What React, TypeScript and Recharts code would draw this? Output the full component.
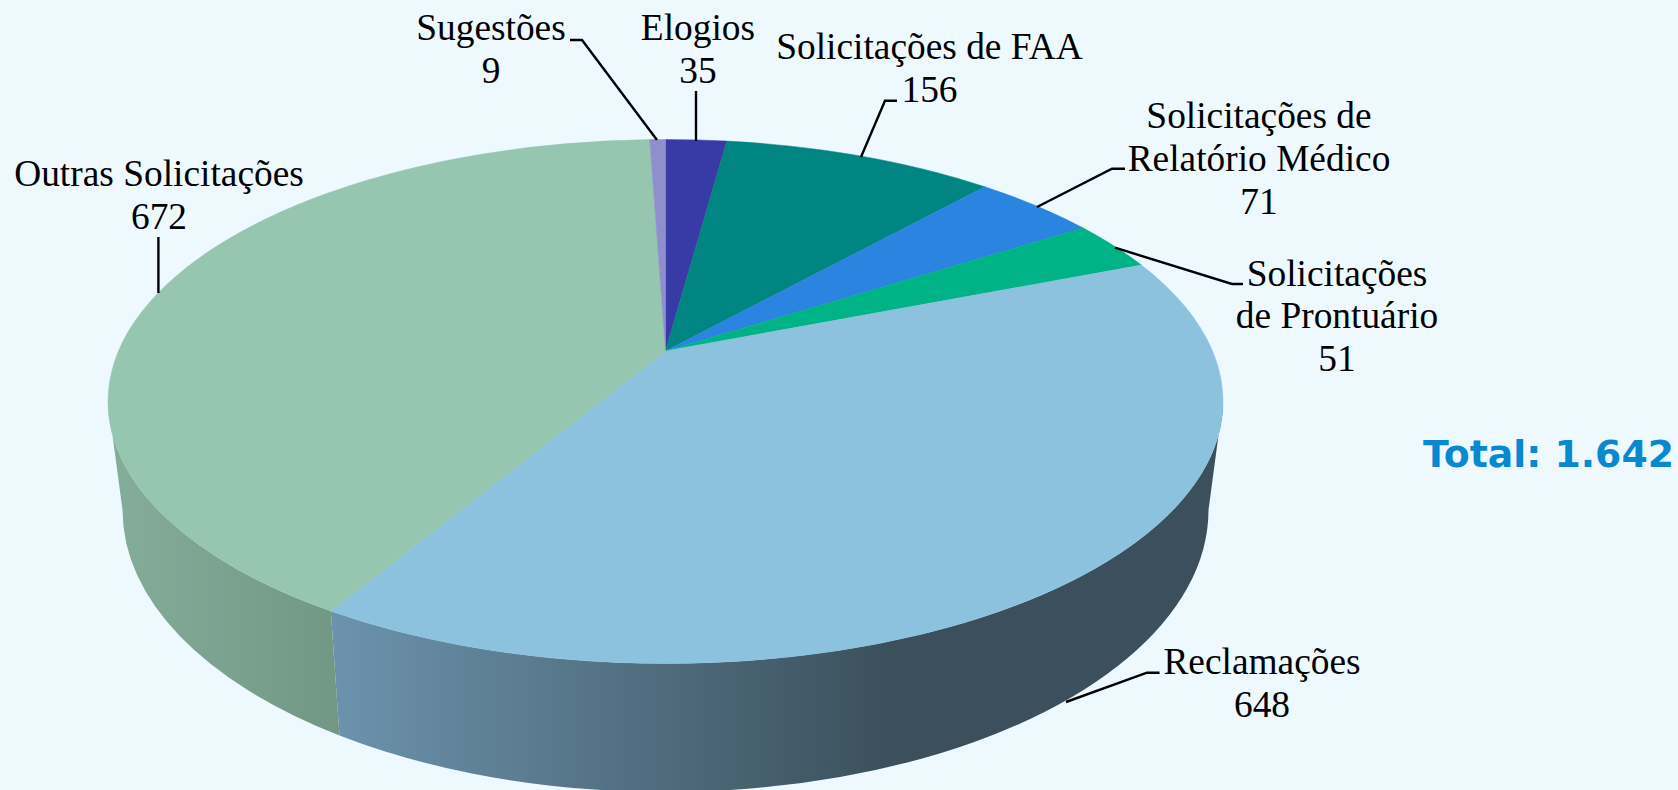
import React from 'react'
import { PieChart, Pie } from 'recharts'

const categories = ['Elogios', 'Solicitações de FAA', 'Solicitações de Relatório Médico', 'Solicitações de Prontuário', 'Reclamações', 'Outras Solicitações', 'Sugestões']
const values = [35, 156, 71, 51, 648, 672, 9]
const colors = ['#383ba6', '#008583', '#2b84e0', '#00b387', '#8dc2df', '#97c6b0', '#8f8fce']
const totalLabel = 'Total: 1.642'

const data = categories.map((name, i) => ({ name, value: values[i], fill: colors[i] }))

// label text lines, anchor and leader line for each slice
const labels: Record<string, { lines: string[]; x: number; y: number; leader: string }> = {
  'Elogios': { lines: ['Elogios', '35'], x: 698, y: 40, leader: '696,91 696,141' },
  'Solicitações de FAA': { lines: ['Solicitações de FAA', '156'], x: 929.5, y: 59, leader: '897,100.7 885,100.7 861,157' },
  'Solicitações de Relatório Médico': { lines: ['Solicitações de', 'Relatório Médico', '71'], x: 1259, y: 128, leader: '1125,168.7 1112,168.7 1037,207' },
  'Solicitações de Prontuário': { lines: ['Solicitações', 'de Prontuário', '51'], x: 1337, y: 285.5, leader: '1243,284 1232,284 1115,247.7' },
  'Reclamações': { lines: ['Reclamações', '648'], x: 1262, y: 674, leader: '1159.5,672.7 1147,672.7 1066,702' },
  'Outras Solicitações': { lines: ['Outras Solicitações', '672'], x: 159, y: 186, leader: '158.4,237 158.4,293' },
  'Sugestões': { lines: ['Sugestões', '9'], x: 491, y: 40, leader: '570,40 582,40 657,140' },
}

// side wall shading, left to right
const walls: Record<string, { from: [number, string]; to: [number, string] }> = {
  'Reclamações': { from: [333, '#6c93ad'], to: [888, '#3b505c'] },
  'Outras Solicitações': { from: [108, '#85ad9b'], to: [333, '#729885'] },
}

// the pie top is a tilted disc: the apex sits above the centre of the ellipse
const RY = 262
const APEX_DY = 50.5
const BOTTOM = { cy: 510, rx: 543, ry: 282 }
const P = -APEX_DY / RY

// recharts angle -> parameter on the ellipse, clockwise on screen from the right
const toEllipse = (angle: number) => {
  const a = (angle * Math.PI) / 180
  const u = Math.cos(a)
  const v = -Math.sin(a)
  const d = 1 + P * v
  return Math.atan2((v + P) / d, (u * Math.sqrt(1 - P * P)) / d)
}

const PerspectiveSector = (props: any) => {
  const { cx, cy, outerRadius: rx, startAngle, endAngle, fill, name } = props
  const ecy = cy + APEX_DY
  const a0 = toEllipse(startAngle)
  let a1 = toEllipse(endAngle)
  while (a1 <= a0 + 1e-6) a1 += Math.PI * 2
  const top = (t: number) => `${cx + rx * Math.cos(t)} ${ecy + RY * Math.sin(t)}`
  const bot = (t: number) => `${cx + BOTTOM.rx * Math.cos(t)} ${BOTTOM.cy + BOTTOM.ry * Math.sin(t)}`
  const large = a1 - a0 > Math.PI ? 1 : 0
  const wall = walls[name]
  let wallPath = ''
  if (wall) {
    // only the front half of the rim can be seen
    let w0 = a0
    let w1 = a1
    if (w0 < 0 && w1 > 0) w0 = 0
    w1 = Math.min(w1, Math.PI)
    wallPath = `M${top(w0)} A${rx} ${RY} 0 0 1 ${top(w1)} L${bot(w1)} A${BOTTOM.rx} ${BOTTOM.ry} 0 0 0 ${bot(w0)} Z`
  }
  const id = `wall-${props.index}`
  return (
    <g>
      {wall && (
        <>
          <defs>
            <linearGradient id={id} gradientUnits="userSpaceOnUse" x1={wall.from[0]} y1={0} x2={wall.to[0]} y2={0}>
              <stop offset="0" stopColor={wall.from[1]} />
              <stop offset="1" stopColor={wall.to[1]} />
            </linearGradient>
          </defs>
          <path d={wallPath} fill={`url(#${id})`} />
        </>
      )}
      <path
        d={`M${cx} ${cy} L${top(a0)} A${rx} ${RY} 0 ${large} 1 ${top(a1)} Z`}
        fill={fill}
        stroke={fill}
        strokeWidth={0.5}
      />
    </g>
  )
}

const renderLabel = (props: any) => {
  const item = labels[props.name]
  return (
    <g key={props.name}>
      <polyline points={item.leader} fill="none" stroke="#000" strokeWidth={2.4} />
      <text x={item.x} y={item.y} textAnchor="middle" fontFamily="'Liberation Serif'" fontSize={37.4} fill="#000">
        {item.lines.map((line, i) => (
          <tspan key={i} x={item.x} dy={i === 0 ? 0 : 42.8}>{line}</tspan>
        ))}
      </text>
    </g>
  )
}

export default function App() {
  return (
    <div style={{ position: 'absolute', left: 0, top: 0, width: 1678, height: 790, overflow: 'hidden', background: '#edf9ff' }}>
      <PieChart width={1678} height={790} margin={{ top: 0, right: 0, bottom: 0, left: 0 }}>
        <Pie
          data={data}
          dataKey="value"
          nameKey="name"
          cx={665.5}
          cy={351}
          innerRadius={0}
          outerRadius={557.5}
          startAngle={90}
          endAngle={-270}
          stroke="none"
          shape={PerspectiveSector}
          label={renderLabel}
          labelLine={false}
          isAnimationActive={false}
        />
        <text x={1674} y={467} textAnchor="end" fontFamily="'DejaVu Sans'" fontWeight="bold" fontSize={37.8} fill="#0888d0">
          {totalLabel}
        </text>
      </PieChart>
    </div>
  )
}
